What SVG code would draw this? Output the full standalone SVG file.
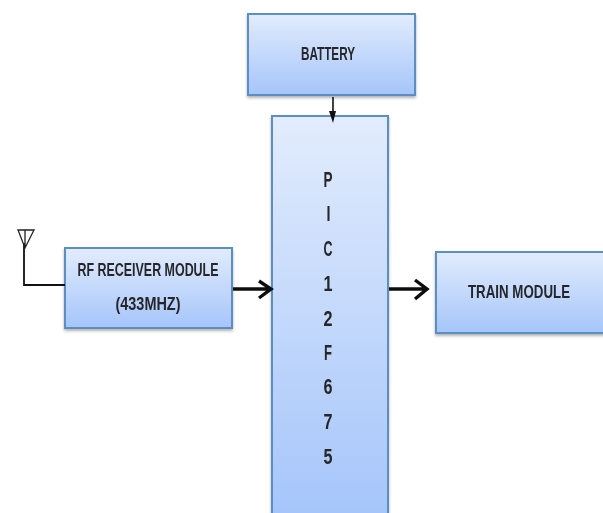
<svg xmlns="http://www.w3.org/2000/svg" width="603" height="513" viewBox="0 0 603 513">
<style>
.box{fill:url(#g);stroke:#5b8ec4;stroke-width:2;filter:url(#s)}
text{font-family:"Liberation Sans Narrow","Liberation Sans",Arial,sans-serif;font-weight:bold;fill:#26262a;text-anchor:middle;font-size:18px;filter:url(#b)}
.p{font-size:22px}
.c{fill:none;stroke:#111;stroke-width:3.4;filter:url(#b)}
</style>
<defs>
<linearGradient id="g" x1="0" y1="0" x2="0" y2="1"><stop offset="0" stop-color="#e2ecfd"/><stop offset="1" stop-color="#a5c5fa"/></linearGradient>
<filter id="s" x="-10%" y="-10%" width="120%" height="120%"><feDropShadow dx="0" dy="2" stdDeviation="1.5" flood-color="#000" flood-opacity="0.3"/></filter>
<filter id="b" x="-20%" y="-20%" width="140%" height="140%"><feGaussianBlur stdDeviation="0.45"/></filter>
</defs>
<g id="battery"><rect class="box" x="248" y="14" width="167" height="81"/><text x="328" y="60" textLength="54" lengthAdjust="spacingAndGlyphs">BATTERY</text></g>
<g id="pic"><rect class="box" x="272" y="116" width="116" height="400"/>
<text class="p" x="328" y="187" textLength="9" lengthAdjust="spacingAndGlyphs">P</text>
<text class="p" x="328.500" y="221" textLength="4" lengthAdjust="spacingAndGlyphs">I</text>
<text class="p" x="328" y="256" textLength="9" lengthAdjust="spacingAndGlyphs">C</text>
<text class="p" x="328" y="291" textLength="9" lengthAdjust="spacingAndGlyphs">1</text>
<text class="p" x="328" y="326" textLength="9" lengthAdjust="spacingAndGlyphs">2</text>
<text class="p" x="328" y="360" textLength="8" lengthAdjust="spacingAndGlyphs">F</text>
<text class="p" x="328" y="394" textLength="9" lengthAdjust="spacingAndGlyphs">6</text>
<text class="p" x="328" y="429" textLength="9" lengthAdjust="spacingAndGlyphs">7</text>
<text class="p" x="328" y="464" textLength="9" lengthAdjust="spacingAndGlyphs">5</text></g>
<g id="rf"><rect class="box" x="65" y="248" width="167" height="80"/>
<text x="148" y="276" textLength="141" lengthAdjust="spacingAndGlyphs">RF RECEIVER MODULE</text>
<text x="148" y="310" textLength="65" lengthAdjust="spacingAndGlyphs">(433MHZ)</text></g>
<g id="train"><rect class="box" x="436" y="252" width="170" height="81"/><text transform="translate(519 298) scale(.74 1)">TRAIN MODULE</text></g>
<g id="connectors">
<path d="M24 243V285H65" fill="none" stroke="#111" stroke-width="1.8"/>
<path d="M18 230H34L25 248Z M25 230V248" fill="none" stroke="#222" stroke-width="1.3"/>
<path d="M333 97V116" fill="none" stroke="#111" stroke-width="1.6"/>
<path d="M329 111L333 123L336 111Z" fill="#111"/>
<path class="c" d="M233 289H270M259 281L271 289L259 298"/>
<path class="c" d="M389 289H427M415 280L427 289L415 299"/>
</g>
</svg>
